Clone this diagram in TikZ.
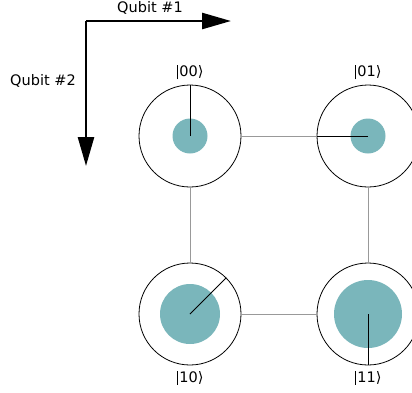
\documentclass[tikz,border=0pt]{standalone}
\usepackage{fontspec}
\setmainfont{DejaVu Sans}
\usetikzlibrary{arrows.meta,positioning}

\definecolor{amp}{RGB}{122,182,187}
\newcommand{\ketbar}{\rule[-2.5pt]{1.8pt}{14pt}\hspace{1pt}}

\tikzset{
    qstate/.style={circle, draw=black, line width=0.8pt, minimum size=102pt, inner sep=0pt},
    link/.style={draw=gray!80, line width=0.8pt},
    phase/.style={draw=black, line width=0.8pt},
    axis/.style={line width=2.6pt, -{Triangle[length=29pt,width=16pt]}},
    ket/.style={font=\fontsize{14.5}{16}\selectfont, inner sep=1pt},
}

\begin{document}
\begin{tikzpicture}[x=1pt, y=-1pt]
    \useasboundingbox (0,0) rectangle (412,392);
    \clip (0,0) rectangle (412,392);

    % Qubit axes
    \coordinate (origin) at (86,21);
    \coordinate (xend) at (231,21);
    \coordinate (yend) at (86,166);
    \draw[axis] (origin) -- (xend);
    \draw[axis] (origin) -- (yend);
    \node[ket] (lab1) at (150,8) {Qubit \#1};
    \node[ket] (lab2) at (43,81) {Qubit \#2};

    % States
    \node[qstate] (q00) at (190,136) {};
    \node[qstate] (q01) at (368,136) {};
    \node[qstate] (q10) at (190,314) {};
    \node[qstate] (q11) at (368,314) {};

    % Links
    \draw[link] (q00) -- (q01);
    \draw[link] (q00) -- (q10);
    \draw[link] (q01) -- (q11);
    \draw[link] (q10) -- (q11);

    % Amplitudes
    \fill[amp] (q00.center) circle (17.5);
    \fill[amp] (q01.center) circle (17.5);
    \fill[amp] (q10.center) circle (30);
    \fill[amp] (q11.center) circle (34);

    % Phases
    \draw[phase] (q00.center) -- (q00.north);
    \draw[phase] (q01.center) -- (q01.west);
    \draw[phase] (q10.center) -- (q10.north east);
    \draw[phase] (q11.center) -- (q11.south);

    % Kets
    \node[ket, above=4pt of q00] (k00) {\ketbar 00⟩};
    \node[ket, above=4pt of q01] (k01) {\ketbar 01⟩};
    \node[ket, below=4pt of q10] (k10) {\ketbar 10⟩};
    \node[ket, below=4pt of q11] (k11) {\ketbar 11⟩};
\end{tikzpicture}
\end{document}
